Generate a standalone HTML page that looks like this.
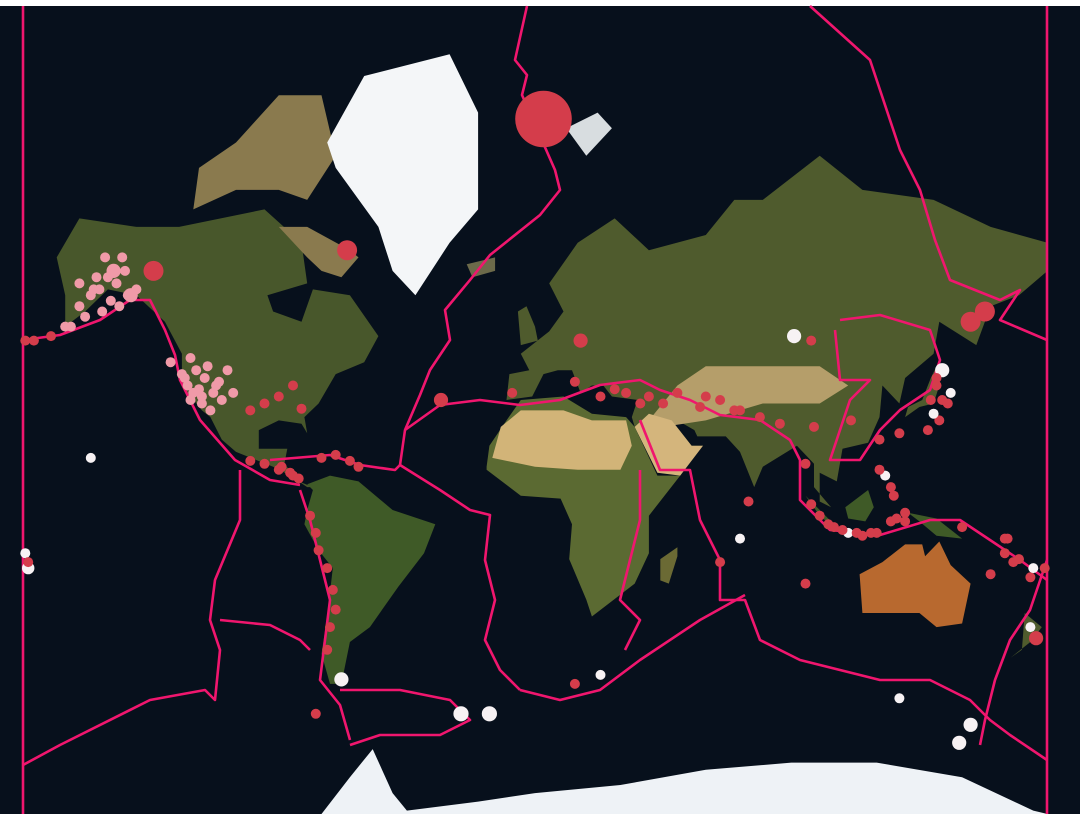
<!DOCTYPE html>
<html><head><meta charset="utf-8"><style>
html,body{margin:0;padding:0;background:#fff;width:1080px;height:816px;overflow:hidden;font-family:"Liberation Sans",sans-serif}
svg{position:absolute;left:0;top:0}
</style></head><body>
<svg id="map" width="1080" height="816" viewBox="0 0 1080 816">
<rect x="0" y="6" width="1080" height="808" fill="#07101c"/>
<g id="land"></g>
<g id="plates" fill="none" stroke="#f0166e" stroke-width="2.6" stroke-linejoin="round">
<line x1="23" y1="6" x2="23" y2="814"/>
<line x1="1047" y1="6" x2="1047" y2="814"/>
<polyline points="527,6 515,60 527,75 522,95 555,170 560,190 540,215 490,255 470,280 445,310 450,340 430,370 420,395 405,430 400,465 440,490 470,510 490,515 485,560 495,600 485,640 500,670 520,690"/>
<polyline points="810,6 870,60 900,150 920,190 935,240 950,280 1000,300 1020,290 1000,320 1047,340"/>
<polyline points="23,340 60,335 100,320 130,300 150,300 165,330 175,355 180,380 200,420 235,460 270,480 300,485"/>
<polyline points="240,470 240,520 215,580 210,620 220,650 215,700 205,690 150,700 60,745 23,765"/>
<polyline points="220,620 270,625 300,640 310,650"/>
<polyline points="300,490 310,520 320,560 330,600 325,640 320,680 340,705 350,740"/>
<polyline points="340,690 400,690 450,700 470,720 440,735 380,735 350,745"/>
<polyline points="270,460 330,455 360,465 395,470 400,465"/>
<polyline points="405,430 440,405 480,400 520,405 560,400 600,385 640,380 660,390 690,400 720,415 760,420 790,440 800,460 800,500 830,530 880,535 930,520 960,520 990,540 1020,560 1047,580"/>
<polyline points="640,420 660,470 690,470 700,520 720,560 720,600 745,600 760,640 800,660 880,680 930,680 970,700 990,720 1010,735 1047,760"/>
<polyline points="640,470 640,520 630,560 620,600 640,620 625,650"/>
<polyline points="520,690 560,700 600,690 640,660 700,620 745,595"/>
<polyline points="840,320 880,315 930,330 940,360 930,390 900,410 880,430 860,460 830,460 850,400 870,380 840,380 835,330"/>
<polyline points="1047,560 1030,610 1010,640 995,680 985,720 980,745"/>
</g>
<g id="quakes"></g>
</svg>
<script>
// Earthquake data (longitude, latitude, magnitude, class: 0=red,1=pink,2=white)
const qLon=[3,-66,-134,-160,-155,-150,-147,-143,-158,-152,-165,-170,-176,-179,-160,-123,-120,-117,-115,-112,-110,-108,-121,-118,-114,-82,-86,-89,-156,-100,-95,-90,-85,-83,-75,-70,-65,-62,-79,-77,-76,-73,-71,-70,-72,-73,-68,-26,-16,-33,-8,16,14,23,37,58,65,72,79,86,91,97,111,121,128,139,141,143,145,146,153,158,165,170,174,176,179,100,105,110,115,120,125,130,150,165,174,153,149,128,72,65,23,14,-163,-142,-128,-179,-77,-178,
 -148,-151,-145,-154,-149,-146,-156,-153,-140,-144,-122,-119,-116,-113,-111,-121,-117,-124,-106,-95,-90,-85,-100,142,140,138,143,141,125,123,126,121,118,113,108,103,97,130,127,166,168,175,-178,160,95,98,95,75,70,60,50,45,40,28,32];
const qLat=[79.6,67,64,58,61,63,62,60,56,57,54,52,51,51,62,42,38,35,45,40,36,44,47,39,33,33.5,13,15,18,17,16,14,12,11,18,19,17,15,-2,-8,-14,-20,-27,-33,-38,-44,-51,-58,-58,36,38,51,41,37,35,34,36,33,31,29,52,51,30,24,26,36,40,44,35,38,55,57,-10,-17,-23,-41,-20,-2,-6,-8,-9,-8,-4,-1,-6,-15,-38,-60,-63,-55,-10,-18,-50,-52,54,60,46,-15,-58,-20,
 64,66,66,63,59,58,60,61,61,64,40,44,42,38,41,36,37,43,38,35,37,40,33,30,32,27,36,42,8,12,5,14,-8,-8,-7,-5,2,-4,-3,-10,-18,-20,-18,-22,-25,28,16,3,33,37,38,35,37,39,38,39];
const qMag=[7.5,6,6,5,5,5,5,5,5,5,5,5,5,5,5,5,5,5,5,5,5,5,5,5,5,5,5,5,5,5,5,5,5,5,5,5,5,5,5,5,5,5,5,5,5,5,5.5,5.6,5.6,5.5,5,5.5,5,5,5,5,5,5,5,5,5.5,5,5,5,5,5,5,5.5,5,5,6,6,5,5,5,5.5,5,5,5,5,5,5,5,5,5,5,5,5.5,5.5,5,5,5,5,5,5,5.5,5,5,5,5.3,5.5,
 5,5,5,5,5,5,5,5,5,5,5,5,5,5,5,5,5,5,5,5,5,5,5,5,5,5,5,5,5,5,5,5,5,5,5,5,5,5,5,5,5,5,5,5,5,5,5,5,5,5,5,5,5,5,5,5];
const qCls=[0,0,0,1,1,1,1,1,1,1,1,0,0,0,1,1,1,1,1,1,1,1,1,1,1,0,0,0,2,0,0,0,0,0,0,0,0,0,0,0,0,0,0,0,0,0,2,2,2,0,0,0,0,0,0,0,0,0,0,0,2,0,0,0,0,0,0,2,0,2,0,0,0,0,0,0,0,0,0,2,0,0,0,0,0,0,2,2,2,2,2,0,2,0,1,1,1,2,0,2,
 1,1,1,1,1,1,1,1,1,1,1,1,1,1,1,1,1,1,1,0,0,0,0,0,2,0,0,0,0,2,0,0,0,0,0,0,0,0,0,0,0,2,0,0,0,0,0,0,0,0,0,0,0,0,0];

// Continent outlines (lon,lat pairs)
const continents=[
 {name:'north-america',fill:'#48572b',pts:[[-168,66],[-160,71],[-140,70],[-125,70],[-95,72],[-82,68],[-80,62],[-94,60],[-92,57],[-82,55],[-78,61],[-65,60],[-55,52],[-60,46],[-70,43],[-76,35],[-81,31],[-80,26],[-82,29],[-90,30],[-97,27],[-97,21],[-87,21],[-88,16],[-83,10],[-78,8],[-80,8],[-86,12],[-92,15],[-105,20],[-110,24],[-114,31],[-117,33],[-124,40],[-124,48],[-130,55],[-140,60],[-150,61],[-158,57],[-165,54],[-165,60]]},
 {name:'canadian-archipelago',fill:'#8a7a4e',pts:[[-120,72],[-105,74],[-90,74],[-80,73],[-70,77],[-75,81],[-90,81],[-105,78],[-118,76]]},
 {name:'baffin-island',fill:'#8a7a4e',pts:[[-90,70],[-80,70],[-65,67],[-62,66],[-68,63],[-75,64],[-80,66]]},
 {name:'greenland',fill:'#f4f6f8',pts:[[-73,78],[-60,82],[-30,83],[-20,80],[-20,72],[-30,68],[-42,60],[-50,64],[-55,70],[-70,76]]},
 {name:'south-america',fill:'#3f5a27',pts:[[-80,9],[-72,12],[-62,10],[-50,0],[-35,-5],[-39,-15],[-48,-26],[-58,-38],[-65,-42],[-68,-52],[-72,-52],[-75,-45],[-73,-35],[-71,-20],[-76,-14],[-81,-5],[-80,0],[-78,7]]},
 {name:'africa',fill:'#5b6a32',pts:[[-17,15],[-16,22],[-10,30],[-5,36],[10,37],[20,32],[32,31],[35,28],[43,12],[51,12],[40,-2],[40,-15],[35,-25],[20,-35],[18,-30],[12,-17],[13,-5],[9,4],[-5,5],[-17,14]]},
 {name:'sahara',fill:'#d2b478',pts:[[-15,18],[-12,28],[-5,33],[10,33],[20,30],[32,30],[34,22],[30,14],[15,14],[0,15]]},
 {name:'eurasia',fill:'#4f5b2d',pts:[[-10,36],[-9,43],[-2,44],[-5,48],[5,53],[10,57],[5,62],[15,68],[28,71],[40,67],[60,69],[70,73],[80,73],[100,77],[115,74],[140,73],[160,70],[180,68],[180,64],[170,60],[160,58],[155,50],[142,55],[140,48],[130,42],[128,35],[122,40],[121,31],[117,23],[108,21],[106,10],[100,13],[100,3],[104,1],[98,8],[98,16],[92,22],[80,15],[77,8],[72,20],[67,25],[57,25],[56,27],[50,30],[48,30],[55,22],[59,22],[52,16],[43,13],[35,28],[34,31],[36,36],[27,37],[24,40],[20,40],[16,38],[13,44],[8,44],[3,43],[-1,37]]},
 {name:'asian-desert',fill:'#b59e6a',pts:[[50,40],[60,45],[80,45],[100,45],[110,40],[100,35],[80,35],[60,30],[45,28],[40,30]]},
 {name:'arabia',fill:'#d4b57c',pts:[[35,28],[43,13],[51,12],[59,22],[55,22],[48,30],[40,32]]},
 {name:'britain',fill:'#4f5b2d',pts:[[-5,50],[1,51],[0,54],[-3,58],[-6,57]]},
 {name:'japan',fill:'#4f5b2d',pts:[[130,31],[135,34],[140,35],[142,40],[141,45],[139,42],[136,36],[131,34]]},
 {name:'borneo',fill:'#3f5a27',pts:[[109,1],[117,7],[119,1],[116,-4],[110,-3]]},
 {name:'sumatra-java',fill:'#3f5a27',pts:[[95,5],[106,-6],[114,-8],[106,-7],[100,-2]]},
 {name:'new-guinea',fill:'#3f5a27',pts:[[131,-1],[141,-3],[150,-10],[141,-9],[135,-4]]},
 {name:'australia',fill:'#b8692f',pts:[[114,-22],[122,-18],[130,-12],[136,-12],[137,-16],[142,-11],[146,-19],[153,-25],[150,-37],[141,-38],[135,-34],[115,-34]]},
 {name:'madagascar',fill:'#6b6a34',pts:[[44,-17],[50,-13],[50,-16],[47,-25],[44,-24]]},
 {name:'new-zealand',fill:'#4f5b2d',pts:[[172,-34],[178,-38],[174,-42],[167,-46],[171,-44]]},
 {name:'iceland',fill:'#6c6a4a',pts:[[-24,65],[-14,66],[-14,64],[-22,63]]},
 {name:'svalbard',fill:'#d8dde0',pts:[[11,79],[22,80],[27,79],[18,77]]},
 {name:'antarctica',fill:'#eef2f6',pts:[[-78,-85],[-75,-74],[-65,-68],[-57,-64],[-50,-70],[-45,-72],[-20,-71],[0,-70],[30,-69],[60,-67],[90,-66],[120,-66],[150,-68],[175,-72],[180,-78],[180,-85]]}
];

const K=1025/(2*Math.PI), CX=535, CY=510;
function px(lon){return CX+lon*1025/360;}
function py(lat){const r=lat*Math.PI/180;return CY-K*Math.log(Math.tan(Math.PI/4+r/2));}
const NS='http://www.w3.org/2000/svg';
const land=document.getElementById('land');
continents.forEach(c=>{
  const p=document.createElementNS(NS,'polygon');
  p.setAttribute('points',c.pts.map(q=>px(q[0]).toFixed(1)+','+Math.min(814,py(q[1])).toFixed(1)).join(' '));
  p.setAttribute('fill',c.fill);
  
  
  land.appendChild(p);
});
const cols=['#d43d4b','#f09aa8','#f7f2f4'];
const g=document.getElementById('quakes');
for(let i=0;i<qLon.length;i++){
  const c=document.createElementNS(NS,'circle');
  c.setAttribute('cx',px(qLon[i]).toFixed(1));
  c.setAttribute('cy',py(qLat[i]).toFixed(1));
  c.setAttribute('r',(Math.pow(2,qMag[i]-5)*5).toFixed(1));
  c.setAttribute('fill',cols[qCls[i]]);
  
  
  g.appendChild(c);
}
</script>
</body></html>
